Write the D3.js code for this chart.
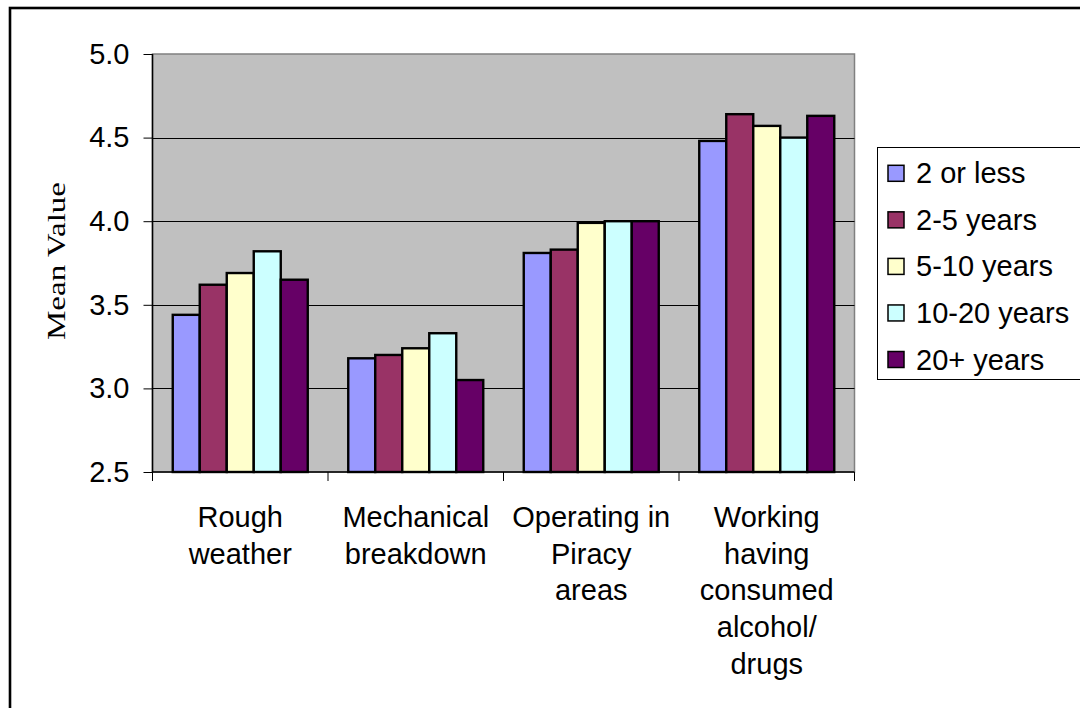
<!DOCTYPE html>
<html>
<head>
<meta charset="utf-8">
<script src="https://cdn.jsdelivr.net/npm/d3@7/dist/d3.min.js"></script>
<style>
  html, body { margin: 0; padding: 0; background: #fff; }
  svg { display: block; }
  text { font-family: "Liberation Sans", Arial, sans-serif; fill: #000; }
  text.serif { font-family: "Liberation Serif", "Times New Roman", serif; }
</style>
</head>
<body>
<svg id="chart" width="1080" height="708"></svg>
<script>
// ---- data ----
const categories = [
  ["Rough", "weather"],
  ["Mechanical", "breakdown"],
  ["Operating in", "Piracy", "areas"],
  ["Working", "having", "consumed", "alcohol/", "drugs"]
];
const seriesNames = ["2 or less", "2-5 years", "5-10 years", "10-20 years", "20+ years"];
const seriesColors = ["#9999FF", "#993366", "#FFFFCC", "#CCFFFF", "#660066"];
const s2orLess   = [3.44, 3.18, 3.81, 4.48];
const s2to5      = [3.62, 3.20, 3.83, 4.64];
const s5to10     = [3.69, 3.24, 3.99, 4.57];
const s10to20    = [3.82, 3.33, 4.00, 4.50];
const s20plus    = [3.65, 3.05, 4.00, 4.63];
const seriesValues = [s2orLess, s2to5, s5to10, s10to20, s20plus];
const yTicks = [2.5, 3.0, 3.5, 4.0, 4.5, 5.0];
const yTitle = "Mean Value";

// ---- layout ----
const svg = d3.select("#chart");
const plot = { left: 152.5, right: 854.5, top: 54, bottom: 472 };
const catKeys = categories.map((c, i) => i);
const FS = 29;

// outer frame
svg.append("rect")
  .attr("x", 10).attr("y", 8).attr("width", 1100).attr("height", 760)
  .attr("fill", "none").attr("stroke", "#000").attr("stroke-width", 2.6);

const x0 = d3.scaleBand().domain(catKeys).range([plot.left, plot.right]).padding(0);
const x1 = d3.scaleBand().domain(d3.range(seriesNames.length))
  .range([0, x0.bandwidth()]).paddingInner(0).paddingOuter(0.75);
const y = d3.scaleLinear().domain([2.5, 5]).range([plot.bottom, plot.top]);

// plot background
svg.append("rect")
  .attr("x", plot.left).attr("y", plot.top)
  .attr("width", plot.right - plot.left).attr("height", plot.bottom - plot.top)
  .attr("fill", "#C0C0C0").attr("stroke", "#808080").attr("stroke-width", 1.5);

// gridlines
svg.append("g").selectAll("line")
  .data(yTicks.filter(t => t > 2.5 && t < 5))
  .join("line")
  .attr("x1", plot.left).attr("x2", plot.right)
  .attr("y1", d => Math.round(y(d)) + 0.5).attr("y2", d => Math.round(y(d)) + 0.5)
  .attr("stroke", "#000").attr("stroke-width", 1);

// bars
const groups = svg.append("g").selectAll("g")
  .data(catKeys).join("g")
  .attr("transform", d => `translate(${x0(d)},0)`);
groups.selectAll("rect")
  .data(ci => seriesValues.map((vals, si) => ({ si, v: vals[ci] })))
  .join("rect")
  .attr("x", d => x1(d.si))
  .attr("y", d => y(d.v))
  .attr("width", x1.bandwidth())
  .attr("height", d => y(2.5) - y(d.v))
  .attr("fill", d => seriesColors[d.si])
  .attr("stroke", "#000").attr("stroke-width", 2.4);

// y axis
const yAxis = d3.axisLeft(y).tickValues(yTicks).tickFormat(d3.format(".1f")).tickSize(9).tickPadding(14);
const gy = svg.append("g").attr("transform", `translate(${plot.left},0)`).call(yAxis);
gy.select(".domain").attr("stroke", "#000").attr("stroke-width", 1.5).attr("d", `M0,${plot.top}V${plot.bottom}`);
gy.selectAll(".tick line").attr("stroke", "#000").attr("stroke-width", 1);
gy.selectAll(".tick text").attr("font-size", FS).attr("fill", "#000");
gy.attr("font-family", null).attr("font-size", null);

// x axis (boundary ticks)
const bounds = catKeys.map(k => x0(k)).concat([plot.right]);
svg.append("line").attr("x1", plot.left).attr("x2", plot.right)
  .attr("y1", plot.bottom).attr("y2", plot.bottom).attr("stroke", "#000").attr("stroke-width", 1.5);
svg.append("g").selectAll("line").data(bounds).join("line")
  .attr("x1", d => d).attr("x2", d => d)
  .attr("y1", plot.bottom).attr("y2", plot.bottom + 9)
  .attr("stroke", "#000").attr("stroke-width", 1);

// category labels
const lineH = 36.7;
svg.append("g").selectAll("text").data(catKeys).join("text")
  .attr("text-anchor", "middle")
  .attr("font-size", FS)
  .each(function(ci) {
    const t = d3.select(this);
    categories[ci].forEach((line, li) => {
      t.append("tspan")
        .attr("x", x0(ci) + x0.bandwidth() / 2)
        .attr("y", 527 + li * lineH)
        .text(line);
    });
  });

// y title
svg.append("text")
  .attr("class", "serif")
  .attr("transform", `translate(${65},${(plot.top + plot.bottom) / 2 - 2}) rotate(-90)`)
  .attr("text-anchor", "middle")
  .attr("font-size", 26)
  .attr("textLength", 158).attr("lengthAdjust", "spacingAndGlyphs")
  .text(yTitle);

// legend
const lg = svg.append("g");
lg.append("rect").attr("x", 877.5).attr("y", 147.5).attr("width", 300).attr("height", 232)
  .attr("fill", "#fff").attr("stroke", "#000").attr("stroke-width", 1);
const legendStep = 46.55;
const items = lg.selectAll("g").data(seriesNames).join("g")
  .attr("transform", (d, i) => `translate(0,${173.3 + i * legendStep})`);
items.append("rect").attr("x", 888).attr("y", -8).attr("width", 16).attr("height", 16)
  .attr("fill", (d, i) => seriesColors[i]).attr("stroke", "#000").attr("stroke-width", 1.5);
items.append("text").attr("x", 916).attr("y", 10).attr("font-size", FS).text(d => d);
</script>
</body>
</html>
